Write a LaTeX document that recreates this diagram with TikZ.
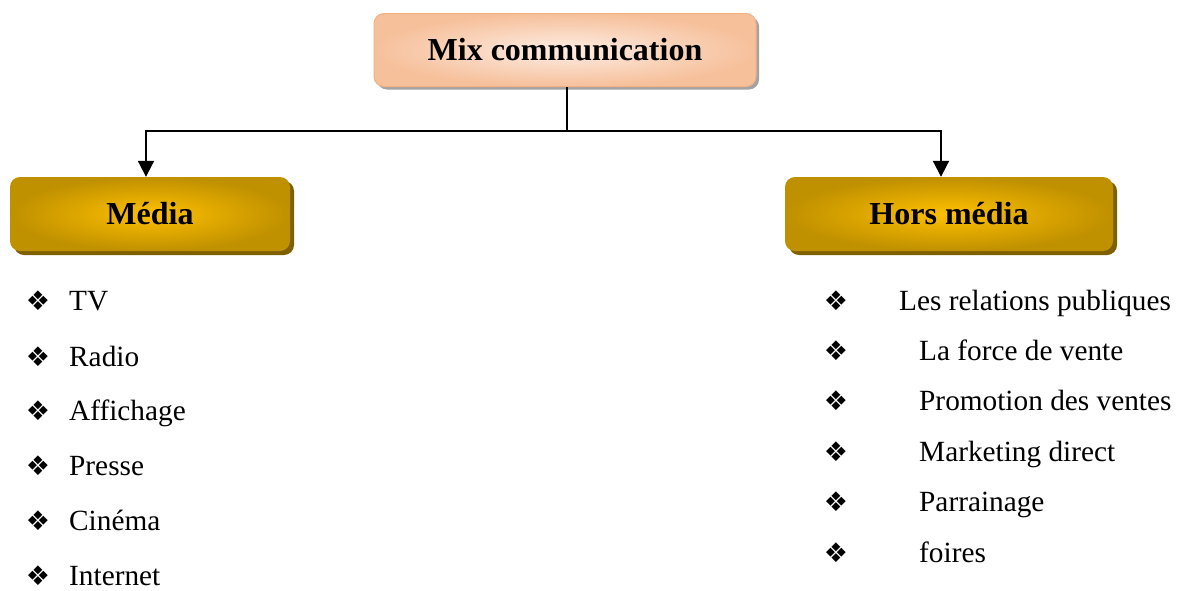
\documentclass[tikz,border=0pt]{standalone}
\usepackage{fontspec}
\setmainfont{Liberation Serif}
\newfontfamily\symfont{DejaVu Sans}
\usetikzlibrary{arrows.meta,shadows}

\definecolor{peachdark}{HTML}{F4B183}
\definecolor{peachlight}{HTML}{FDEDE3}
\definecolor{golddark}{HTML}{BF9000}
\definecolor{goldlight}{HTML}{FFC000}
\definecolor{goldshadow}{HTML}{7F6000}

\tikzset{
  topbox/.style={rounded corners=10pt, draw=peachdark, line width=1pt,
    inner color=peachlight, outer color=peachdark!75!peachlight,
    drop shadow={shadow xshift=3pt, shadow yshift=-3pt, fill=black!45, opacity=0.8},
    minimum width=382pt, minimum height=73pt,
    font=\fontsize{32}{36}\selectfont\bfseries},
  goldbox/.style={rounded corners=10pt,
    inner color=goldlight, outer color=golddark,
    drop shadow={shadow xshift=4pt, shadow yshift=-4pt, fill=goldshadow, opacity=1},
    minimum height=74pt,
    font=\fontsize{32}{36}\selectfont\bfseries},
  puce/.style={font=\symfont\fontsize{27}{30}\selectfont, inner sep=0pt},
  item/.style={anchor=west, inner sep=0pt, text height=19.6pt, text depth=0pt,
    font=\fontsize{29.3}{34}\selectfont},
  arr/.style={line width=2pt, -{Triangle[width=16pt,length=16pt]}}
}

\begin{document}
\begin{tikzpicture}[x=1pt, y=-1pt]

\useasboundingbox (0,0) rectangle (1179,590);

\node [topbox] (mix) at (565,50) {Mix communication};
\node [goldbox, minimum width=280pt] (media) at (150,214) {Média};
\node [goldbox, minimum width=328pt] (hors) at (949,214) {Hors média};

\coordinate (split) at (567,131);
\draw [line width=2pt] (mix.south -| split) -- (split);
\draw [arr] (split) -| ([xshift=-4pt]media.north);
\draw [arr] (split) -| ([xshift=-8pt]hors.north);

% supports medias
\foreach \name/\txt/\y in {tv/TV/301, radio/Radio/357, affichage/Affichage/411,
    presse/Presse/466, cinema/Cinéma/521, internet/Internet/576} {
  \node [puce] (b-\name) at (38,\y) {❖};
  \node [item] (\name) at (69,\y) {\txt};
}

% hors medias
\node [puce] (b-rp) at (836,301) {❖};
\node [item] (rp) at (899,301) {Les relations publiques};
\foreach \name/\txt/\y in {fdv/La force de vente/351, promo/Promotion des ventes/401,
    direct/Marketing direct/452, parrain/Parrainage/502, foires/foires/553} {
  \node [puce] (b-\name) at (836,\y) {❖};
  \node [item] (\name) at (919,\y) {\txt};
}

\end{tikzpicture}
\end{document}
